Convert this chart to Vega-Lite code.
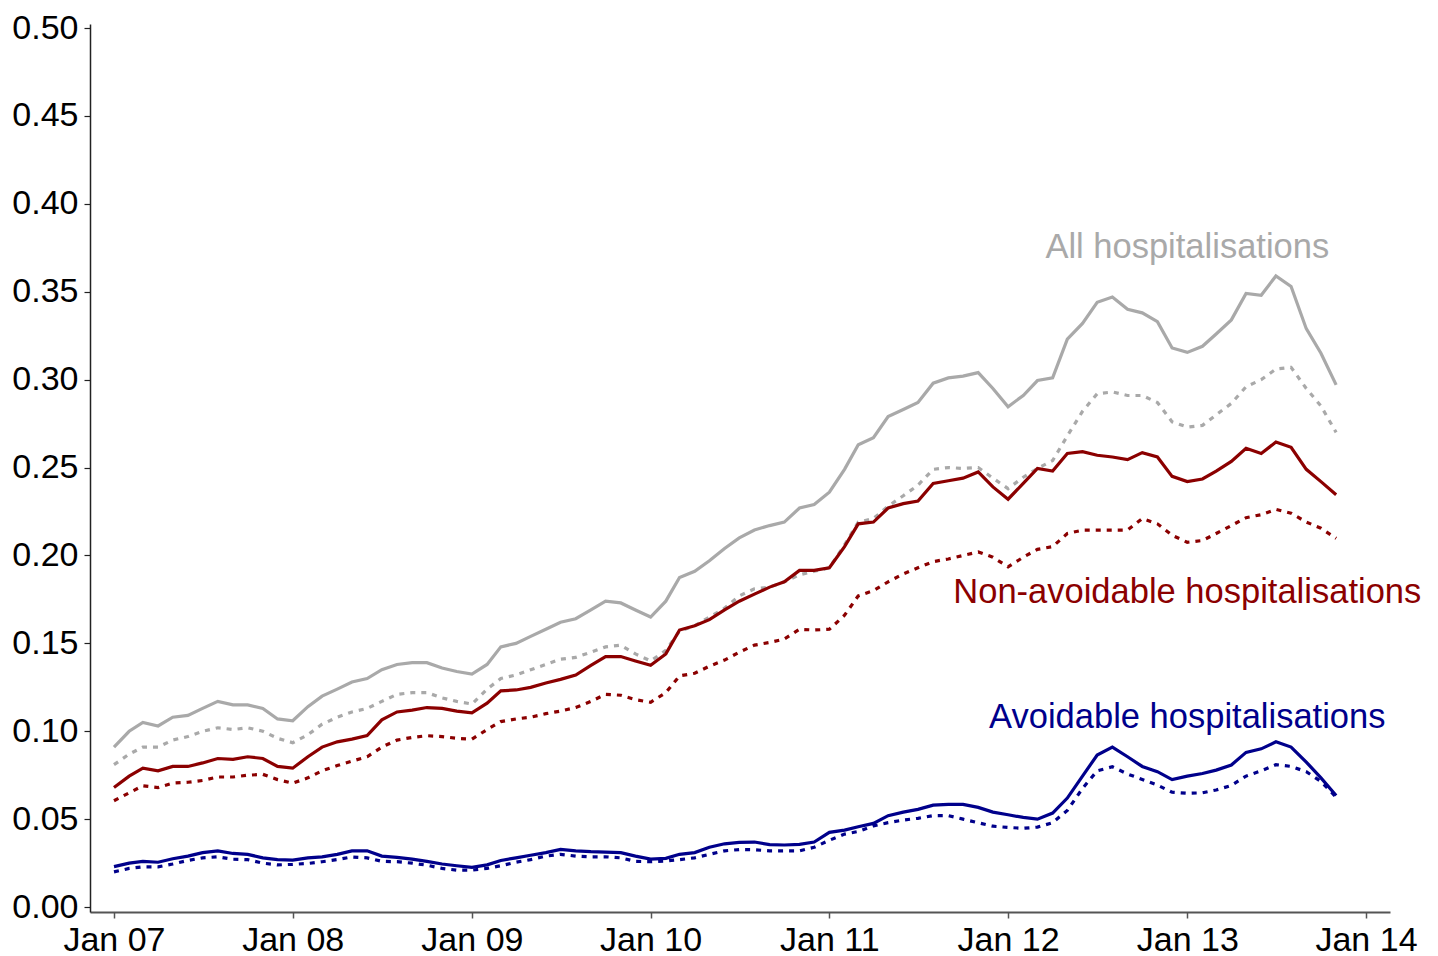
{
  "$schema": "https://vega.github.io/schema/vega-lite/v6.json",
  "width": 1300,
  "height": 888,
  "autosize": {"type": "none"},
  "padding": {"left": 90, "top": 24, "right": 48, "bottom": 44},
  "background": "white",
  "config": {"view": {"stroke": null}, "font": "Liberation Sans"},
  "datasets": {
    "all_solid": [
      {"date":"2007-01","value":0.091},{"date":"2007-02","value":0.100},{"date":"2007-03","value":0.105},{"date":"2007-04","value":0.103},{"date":"2007-05","value":0.108},{"date":"2007-06","value":0.109},{"date":"2007-07","value":0.113},{"date":"2007-08","value":0.117},{"date":"2007-09","value":0.115},{"date":"2007-10","value":0.115},{"date":"2007-11","value":0.113},{"date":"2007-12","value":0.107},
      {"date":"2008-01","value":0.106},{"date":"2008-02","value":0.114},{"date":"2008-03","value":0.120},{"date":"2008-04","value":0.124},{"date":"2008-05","value":0.128},{"date":"2008-06","value":0.130},{"date":"2008-07","value":0.135},{"date":"2008-08","value":0.138},{"date":"2008-09","value":0.139},{"date":"2008-10","value":0.139},{"date":"2008-11","value":0.136},{"date":"2008-12","value":0.134},
      {"date":"2009-01","value":0.1325},{"date":"2009-02","value":0.138},{"date":"2009-03","value":0.148},{"date":"2009-04","value":0.150},{"date":"2009-05","value":0.154},{"date":"2009-06","value":0.158},{"date":"2009-07","value":0.162},{"date":"2009-08","value":0.164},{"date":"2009-09","value":0.169},{"date":"2009-10","value":0.174},{"date":"2009-11","value":0.173},{"date":"2009-12","value":0.169},
      {"date":"2010-01","value":0.165},{"date":"2010-02","value":0.174},{"date":"2010-03","value":0.1875},{"date":"2010-04","value":0.191},{"date":"2010-05","value":0.197},{"date":"2010-06","value":0.204},{"date":"2010-07","value":0.210},{"date":"2010-08","value":0.2145},{"date":"2010-09","value":0.217},{"date":"2010-10","value":0.219},{"date":"2010-11","value":0.227},{"date":"2010-12","value":0.229},
      {"date":"2011-01","value":0.236},{"date":"2011-02","value":0.249},{"date":"2011-03","value":0.263},{"date":"2011-04","value":0.267},{"date":"2011-05","value":0.279},{"date":"2011-06","value":0.283},{"date":"2011-07","value":0.287},{"date":"2011-08","value":0.298},{"date":"2011-09","value":0.301},{"date":"2011-10","value":0.302},{"date":"2011-11","value":0.304},{"date":"2011-12","value":0.295},
      {"date":"2012-01","value":0.2846},{"date":"2012-02","value":0.291},{"date":"2012-03","value":0.2995},{"date":"2012-04","value":0.301},{"date":"2012-05","value":0.323},{"date":"2012-06","value":0.332},{"date":"2012-07","value":0.344},{"date":"2012-08","value":0.347},{"date":"2012-09","value":0.340},{"date":"2012-10","value":0.338},{"date":"2012-11","value":0.333},{"date":"2012-12","value":0.318},
      {"date":"2013-01","value":0.3155},{"date":"2013-02","value":0.319},{"date":"2013-03","value":0.326},{"date":"2013-04","value":0.334},{"date":"2013-05","value":0.349},{"date":"2013-06","value":0.348},{"date":"2013-07","value":0.359},{"date":"2013-08","value":0.353},{"date":"2013-09","value":0.329},{"date":"2013-10","value":0.315},{"date":"2013-11","value":0.297}
    ],
    "all_dotted": [
      {"date":"2007-01","value":0.081},{"date":"2007-02","value":0.087},{"date":"2007-03","value":0.091},{"date":"2007-04","value":0.091},{"date":"2007-05","value":0.095},{"date":"2007-06","value":0.097},{"date":"2007-07","value":0.100},{"date":"2007-08","value":0.102},{"date":"2007-09","value":0.101},{"date":"2007-10","value":0.102},{"date":"2007-11","value":0.100},{"date":"2007-12","value":0.096},
      {"date":"2008-01","value":0.0935},{"date":"2008-02","value":0.098},{"date":"2008-03","value":0.104},{"date":"2008-04","value":0.108},{"date":"2008-05","value":0.111},{"date":"2008-06","value":0.113},{"date":"2008-07","value":0.117},{"date":"2008-08","value":0.121},{"date":"2008-09","value":0.122},{"date":"2008-10","value":0.122},{"date":"2008-11","value":0.119},{"date":"2008-12","value":0.117},
      {"date":"2009-01","value":0.1155},{"date":"2009-02","value":0.124},{"date":"2009-03","value":0.130},{"date":"2009-04","value":0.132},{"date":"2009-05","value":0.135},{"date":"2009-06","value":0.138},{"date":"2009-07","value":0.141},{"date":"2009-08","value":0.142},{"date":"2009-09","value":0.145},{"date":"2009-10","value":0.148},{"date":"2009-11","value":0.149},{"date":"2009-12","value":0.144},
      {"date":"2010-01","value":0.140},{"date":"2010-02","value":0.146},{"date":"2010-03","value":0.157},{"date":"2010-04","value":0.160},{"date":"2010-05","value":0.165},{"date":"2010-06","value":0.170},{"date":"2010-07","value":0.177},{"date":"2010-08","value":0.181},{"date":"2010-09","value":0.182},{"date":"2010-10","value":0.185},{"date":"2010-11","value":0.189},{"date":"2010-12","value":0.191},
      {"date":"2011-01","value":0.193},{"date":"2011-02","value":0.206},{"date":"2011-03","value":0.219},{"date":"2011-04","value":0.221},{"date":"2011-05","value":0.228},{"date":"2011-06","value":0.234},{"date":"2011-07","value":0.240},{"date":"2011-08","value":0.249},{"date":"2011-09","value":0.250},{"date":"2011-10","value":0.2495},{"date":"2011-11","value":0.250},{"date":"2011-12","value":0.244},
      {"date":"2012-01","value":0.238},{"date":"2012-02","value":0.2445},{"date":"2012-03","value":0.2495},{"date":"2012-04","value":0.254},{"date":"2012-05","value":0.268},{"date":"2012-06","value":0.282},{"date":"2012-07","value":0.292},{"date":"2012-08","value":0.293},{"date":"2012-09","value":0.291},{"date":"2012-10","value":0.291},{"date":"2012-11","value":0.287},{"date":"2012-12","value":0.276},
      {"date":"2013-01","value":0.273},{"date":"2013-02","value":0.274},{"date":"2013-03","value":0.280},{"date":"2013-04","value":0.2865},{"date":"2013-05","value":0.296},{"date":"2013-06","value":0.300},{"date":"2013-07","value":0.306},{"date":"2013-08","value":0.307},{"date":"2013-09","value":0.295},{"date":"2013-10","value":0.285},{"date":"2013-11","value":0.270}
    ],
    "non_solid": [
      {"date":"2007-01","value":0.068},{"date":"2007-02","value":0.0745},{"date":"2007-03","value":0.079},{"date":"2007-04","value":0.0775},{"date":"2007-05","value":0.080},{"date":"2007-06","value":0.080},{"date":"2007-07","value":0.082},{"date":"2007-08","value":0.0845},{"date":"2007-09","value":0.084},{"date":"2007-10","value":0.0855},{"date":"2007-11","value":0.0845},{"date":"2007-12","value":0.080},
      {"date":"2008-01","value":0.079},{"date":"2008-02","value":0.0855},{"date":"2008-03","value":0.091},{"date":"2008-04","value":0.094},{"date":"2008-05","value":0.0955},{"date":"2008-06","value":0.0975},{"date":"2008-07","value":0.1065},{"date":"2008-08","value":0.111},{"date":"2008-09","value":0.112},{"date":"2008-10","value":0.1135},{"date":"2008-11","value":0.113},{"date":"2008-12","value":0.1115},
      {"date":"2009-01","value":0.1105},{"date":"2009-02","value":0.116},{"date":"2009-03","value":0.123},{"date":"2009-04","value":0.1235},{"date":"2009-05","value":0.125},{"date":"2009-06","value":0.1275},{"date":"2009-07","value":0.1295},{"date":"2009-08","value":0.132},{"date":"2009-09","value":0.1375},{"date":"2009-10","value":0.1425},{"date":"2009-11","value":0.1425},{"date":"2009-12","value":0.140},
      {"date":"2010-01","value":0.1375},{"date":"2010-02","value":0.144},{"date":"2010-03","value":0.1576},{"date":"2010-04","value":0.160},{"date":"2010-05","value":0.1635},{"date":"2010-06","value":0.169},{"date":"2010-07","value":0.174},{"date":"2010-08","value":0.178},{"date":"2010-09","value":0.182},{"date":"2010-10","value":0.185},{"date":"2010-11","value":0.1915},{"date":"2010-12","value":0.1915},
      {"date":"2011-01","value":0.193},{"date":"2011-02","value":0.205},{"date":"2011-03","value":0.218},{"date":"2011-04","value":0.219},{"date":"2011-05","value":0.227},{"date":"2011-06","value":0.2295},{"date":"2011-07","value":0.231},{"date":"2011-08","value":0.241},{"date":"2011-09","value":0.2425},{"date":"2011-10","value":0.244},{"date":"2011-11","value":0.2475},{"date":"2011-12","value":0.239},
      {"date":"2012-01","value":0.232},{"date":"2012-02","value":0.241},{"date":"2012-03","value":0.2495},{"date":"2012-04","value":0.248},{"date":"2012-05","value":0.258},{"date":"2012-06","value":0.259},{"date":"2012-07","value":0.257},{"date":"2012-08","value":0.256},{"date":"2012-09","value":0.2545},{"date":"2012-10","value":0.2585},{"date":"2012-11","value":0.256},{"date":"2012-12","value":0.245},
      {"date":"2013-01","value":0.242},{"date":"2013-02","value":0.2435},{"date":"2013-03","value":0.248},{"date":"2013-04","value":0.2535},{"date":"2013-05","value":0.261},{"date":"2013-06","value":0.258},{"date":"2013-07","value":0.2645},{"date":"2013-08","value":0.2615},{"date":"2013-09","value":0.249},{"date":"2013-10","value":0.242},{"date":"2013-11","value":0.2345}
    ],
    "non_dotted": [
      {"date":"2007-01","value":0.0605},{"date":"2007-02","value":0.065},{"date":"2007-03","value":0.069},{"date":"2007-04","value":0.068},{"date":"2007-05","value":0.0705},{"date":"2007-06","value":0.071},{"date":"2007-07","value":0.072},{"date":"2007-08","value":0.074},{"date":"2007-09","value":0.074},{"date":"2007-10","value":0.075},{"date":"2007-11","value":0.0755},{"date":"2007-12","value":0.0725},
      {"date":"2008-01","value":0.0705},{"date":"2008-02","value":0.0735},{"date":"2008-03","value":0.0775},{"date":"2008-04","value":0.0805},{"date":"2008-05","value":0.083},{"date":"2008-06","value":0.0855},{"date":"2008-07","value":0.091},{"date":"2008-08","value":0.095},{"date":"2008-09","value":0.0965},{"date":"2008-10","value":0.0975},{"date":"2008-11","value":0.097},{"date":"2008-12","value":0.096},
      {"date":"2009-01","value":0.0955},{"date":"2009-02","value":0.101},{"date":"2009-03","value":0.1055},{"date":"2009-04","value":0.107},{"date":"2009-05","value":0.108},{"date":"2009-06","value":0.110},{"date":"2009-07","value":0.1115},{"date":"2009-08","value":0.1135},{"date":"2009-09","value":0.117},{"date":"2009-10","value":0.121},{"date":"2009-11","value":0.1205},{"date":"2009-12","value":0.118},
      {"date":"2010-01","value":0.1165},{"date":"2010-02","value":0.122},{"date":"2010-03","value":0.1315},{"date":"2010-04","value":0.133},{"date":"2010-05","value":0.137},{"date":"2010-06","value":0.1405},{"date":"2010-07","value":0.145},{"date":"2010-08","value":0.149},{"date":"2010-09","value":0.1505},{"date":"2010-10","value":0.1525},{"date":"2010-11","value":0.158},{"date":"2010-12","value":0.1576},
      {"date":"2011-01","value":0.158},{"date":"2011-02","value":0.166},{"date":"2011-03","value":0.177},{"date":"2011-04","value":0.180},{"date":"2011-05","value":0.185},{"date":"2011-06","value":0.1895},{"date":"2011-07","value":0.193},{"date":"2011-08","value":0.1965},{"date":"2011-09","value":0.198},{"date":"2011-10","value":0.200},{"date":"2011-11","value":0.202},{"date":"2011-12","value":0.199},
      {"date":"2012-01","value":0.1935},{"date":"2012-02","value":0.199},{"date":"2012-03","value":0.2035},{"date":"2012-04","value":0.205},{"date":"2012-05","value":0.2125},{"date":"2012-06","value":0.2144},{"date":"2012-07","value":0.2144},{"date":"2012-08","value":0.2144},{"date":"2012-09","value":0.2145},{"date":"2012-10","value":0.221},{"date":"2012-11","value":0.218},{"date":"2012-12","value":0.2115},
      {"date":"2013-01","value":0.2075},{"date":"2013-02","value":0.2085},{"date":"2013-03","value":0.2125},{"date":"2013-04","value":0.217},{"date":"2013-05","value":0.2215},{"date":"2013-06","value":0.2232},{"date":"2013-07","value":0.2262},{"date":"2013-08","value":0.224},{"date":"2013-09","value":0.219},{"date":"2013-10","value":0.2155},{"date":"2013-11","value":0.2097}
    ],
    "avoid_solid": [
      {"date":"2007-01","value":0.023},{"date":"2007-02","value":0.025},{"date":"2007-03","value":0.026},{"date":"2007-04","value":0.0255},{"date":"2007-05","value":0.0275},{"date":"2007-06","value":0.029},{"date":"2007-07","value":0.031},{"date":"2007-08","value":0.032},{"date":"2007-09","value":0.0305},{"date":"2007-10","value":0.030},{"date":"2007-11","value":0.028},{"date":"2007-12","value":0.027},
      {"date":"2008-01","value":0.0267},{"date":"2008-02","value":0.028},{"date":"2008-03","value":0.0286},{"date":"2008-04","value":0.030},{"date":"2008-05","value":0.032},{"date":"2008-06","value":0.032},{"date":"2008-07","value":0.029},{"date":"2008-08","value":0.0283},{"date":"2008-09","value":0.0273},{"date":"2008-10","value":0.026},{"date":"2008-11","value":0.0245},{"date":"2008-12","value":0.0235},
      {"date":"2009-01","value":0.0226},{"date":"2009-02","value":0.024},{"date":"2009-03","value":0.0265},{"date":"2009-04","value":0.028},{"date":"2009-05","value":0.0295},{"date":"2009-06","value":0.031},{"date":"2009-07","value":0.0328},{"date":"2009-08","value":0.032},{"date":"2009-09","value":0.0315},{"date":"2009-10","value":0.0313},{"date":"2009-11","value":0.031},{"date":"2009-12","value":0.029},
      {"date":"2010-01","value":0.0273},{"date":"2010-02","value":0.0277},{"date":"2010-03","value":0.030},{"date":"2010-04","value":0.031},{"date":"2010-05","value":0.034},{"date":"2010-06","value":0.036},{"date":"2010-07","value":0.0368},{"date":"2010-08","value":0.037},{"date":"2010-09","value":0.0355},{"date":"2010-10","value":0.0353},{"date":"2010-11","value":0.0357},{"date":"2010-12","value":0.037},
      {"date":"2011-01","value":0.0425},{"date":"2011-02","value":0.0438},{"date":"2011-03","value":0.0457},{"date":"2011-04","value":0.0476},{"date":"2011-05","value":0.052},{"date":"2011-06","value":0.054},{"date":"2011-07","value":0.0556},{"date":"2011-08","value":0.058},{"date":"2011-09","value":0.0584},{"date":"2011-10","value":0.0584},{"date":"2011-11","value":0.0567},{"date":"2011-12","value":0.054},
      {"date":"2012-01","value":0.0525},{"date":"2012-02","value":0.051},{"date":"2012-03","value":0.050},{"date":"2012-04","value":0.0535},{"date":"2012-05","value":0.062},{"date":"2012-06","value":0.0745},{"date":"2012-07","value":0.0865},{"date":"2012-08","value":0.091},{"date":"2012-09","value":0.0855},{"date":"2012-10","value":0.080},{"date":"2012-11","value":0.077},{"date":"2012-12","value":0.0725},
      {"date":"2013-01","value":0.0745},{"date":"2013-02","value":0.076},{"date":"2013-03","value":0.0779},{"date":"2013-04","value":0.0808},{"date":"2013-05","value":0.088},{"date":"2013-06","value":0.090},{"date":"2013-07","value":0.094},{"date":"2013-08","value":0.091},{"date":"2013-09","value":0.0825},{"date":"2013-10","value":0.0735},{"date":"2013-11","value":0.0635}
    ],
    "avoid_dotted": [
      {"date":"2007-01","value":0.020},{"date":"2007-02","value":0.022},{"date":"2007-03","value":0.0229},{"date":"2007-04","value":0.0229},{"date":"2007-05","value":0.0245},{"date":"2007-06","value":0.0265},{"date":"2007-07","value":0.028},{"date":"2007-08","value":0.0286},{"date":"2007-09","value":0.0272},{"date":"2007-10","value":0.027},{"date":"2007-11","value":0.025},{"date":"2007-12","value":0.024},
      {"date":"2008-01","value":0.0243},{"date":"2008-02","value":0.0248},{"date":"2008-03","value":0.0258},{"date":"2008-04","value":0.027},{"date":"2008-05","value":0.0285},{"date":"2008-06","value":0.028},{"date":"2008-07","value":0.026},{"date":"2008-08","value":0.0258},{"date":"2008-09","value":0.025},{"date":"2008-10","value":0.0238},{"date":"2008-11","value":0.022},{"date":"2008-12","value":0.021},
      {"date":"2009-01","value":0.021},{"date":"2009-02","value":0.022},{"date":"2009-03","value":0.0235},{"date":"2009-04","value":0.0255},{"date":"2009-05","value":0.027},{"date":"2009-06","value":0.029},{"date":"2009-07","value":0.030},{"date":"2009-08","value":0.029},{"date":"2009-09","value":0.0286},{"date":"2009-10","value":0.0286},{"date":"2009-11","value":0.028},{"date":"2009-12","value":0.026},
      {"date":"2010-01","value":0.0258},{"date":"2010-02","value":0.0262},{"date":"2010-03","value":0.027},{"date":"2010-04","value":0.028},{"date":"2010-05","value":0.030},{"date":"2010-06","value":0.032},{"date":"2010-07","value":0.0327},{"date":"2010-08","value":0.0326},{"date":"2010-09","value":0.032},{"date":"2010-10","value":0.032},{"date":"2010-11","value":0.032},{"date":"2010-12","value":0.034},
      {"date":"2011-01","value":0.038},{"date":"2011-02","value":0.0415},{"date":"2011-03","value":0.043},{"date":"2011-04","value":0.0462},{"date":"2011-05","value":0.048},{"date":"2011-06","value":0.0495},{"date":"2011-07","value":0.0505},{"date":"2011-08","value":0.052},{"date":"2011-09","value":0.052},{"date":"2011-10","value":0.050},{"date":"2011-11","value":0.048},{"date":"2011-12","value":0.046},
      {"date":"2012-01","value":0.0453},{"date":"2012-02","value":0.0448},{"date":"2012-03","value":0.0455},{"date":"2012-04","value":0.048},{"date":"2012-05","value":0.055},{"date":"2012-06","value":0.0675},{"date":"2012-07","value":0.0775},{"date":"2012-08","value":0.0798},{"date":"2012-09","value":0.0757},{"date":"2012-10","value":0.0726},{"date":"2012-11","value":0.0694},{"date":"2012-12","value":0.0653},
      {"date":"2013-01","value":0.0647},{"date":"2013-02","value":0.065},{"date":"2013-03","value":0.0666},{"date":"2013-04","value":0.0692},{"date":"2013-05","value":0.0745},{"date":"2013-06","value":0.0775},{"date":"2013-07","value":0.081},{"date":"2013-08","value":0.080},{"date":"2013-09","value":0.077},{"date":"2013-10","value":0.0715},{"date":"2013-11","value":0.0625}
    ],
    "labels": [
      {"date":"2013-01","value":0.375,"label":"All hospitalisations"},
      {"date":"2013-01","value":0.1786,"label":"Non-avoidable hospitalisations"},
      {"date":"2013-01","value":0.1075,"label":"Avoidable hospitalisations"}
    ]
  },
  "encoding": {
    "x": {
      "field": "date",
      "type": "temporal",
      "scale": {
        "type": "utc",
        "domain": [
          {"year": 2006, "month": 11, "date": 13, "utc": true},
          {"year": 2014, "month": 2, "date": 19, "utc": true}
        ]
      },
      "axis": {
        "title": null,
        "grid": false,
        "format": "%b %y",
        "values": [
          {"year": 2007, "month": 1, "date": 1, "utc": true},
          {"year": 2008, "month": 1, "date": 1, "utc": true},
          {"year": 2009, "month": 1, "date": 1, "utc": true},
          {"year": 2010, "month": 1, "date": 1, "utc": true},
          {"year": 2011, "month": 1, "date": 1, "utc": true},
          {"year": 2012, "month": 1, "date": 1, "utc": true},
          {"year": 2013, "month": 1, "date": 1, "utc": true},
          {"year": 2014, "month": 1, "date": 1, "utc": true}
        ],
        "labelFont": "Liberation Sans",
        "labelFontSize": 34,
        "labelColor": "#000000",
        "labelPadding": 5,
        "labelFlush": false,
        "labelOverlap": false,
        "tickSize": 6,
        "tickColor": "#555555",
        "tickWidth": 1.5,
        "domainColor": "#555555",
        "domainWidth": 2
      }
    },
    "y": {
      "field": "value",
      "type": "quantitative",
      "scale": {"domain": [-0.0028, 0.5023], "nice": false, "zero": false},
      "axis": {
        "title": null,
        "grid": false,
        "format": ".2f",
        "values": [0, 0.05, 0.1, 0.15, 0.2, 0.25, 0.3, 0.35, 0.4, 0.45, 0.5],
        "labelFont": "Liberation Sans",
        "labelFontSize": 34,
        "labelColor": "#000000",
        "labelPadding": 6,
        "labelFlush": false,
        "labelOverlap": false,
        "tickSize": 6,
        "tickColor": "#222222",
        "tickWidth": 1.2,
        "domainColor": "#222222",
        "domainWidth": 1.5
      }
    }
  },
  "layer": [
    {"data": {"name": "all_solid"}, "mark": {"type": "line", "color": "#A9A9A9", "strokeWidth": 3.2}},
    {"data": {"name": "all_dotted"}, "mark": {"type": "line", "color": "#A9A9A9", "strokeWidth": 3.2, "strokeDash": [5, 6]}},
    {"data": {"name": "non_solid"}, "mark": {"type": "line", "color": "#8B0000", "strokeWidth": 3.2}},
    {"data": {"name": "non_dotted"}, "mark": {"type": "line", "color": "#8B0000", "strokeWidth": 3.2, "strokeDash": [5, 6]}},
    {"data": {"name": "avoid_solid"}, "mark": {"type": "line", "color": "#00008B", "strokeWidth": 3.2}},
    {"data": {"name": "avoid_dotted"}, "mark": {"type": "line", "color": "#00008B", "strokeWidth": 3.2, "strokeDash": [5, 6]}},
    {
      "data": {"name": "labels"},
      "mark": {"type": "text", "font": "Liberation Sans", "fontSize": 34.5, "align": "center", "baseline": "middle"},
      "encoding": {
        "text": {"field": "label", "type": "nominal"},
        "color": {
          "field": "label",
          "type": "nominal",
          "scale": {
            "domain": ["All hospitalisations", "Non-avoidable hospitalisations", "Avoidable hospitalisations"],
            "range": ["#A9A9A9", "#8B0000", "#00008B"]
          },
          "legend": null
        }
      }
    }
  ]
}
